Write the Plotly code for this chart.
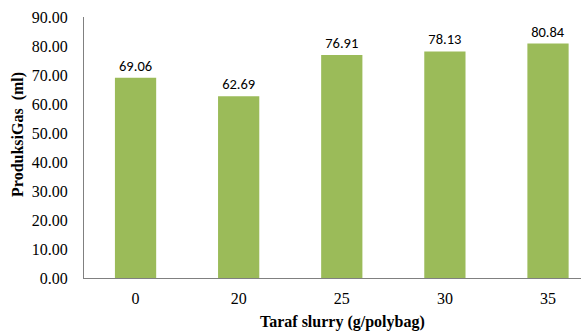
import plotly.graph_objects as go

categories = ["0", "20", "25", "30", "35"]
values = [69.06, 62.69, 76.91, 78.13, 80.84]
value_labels = ["69.06", "62.69", "76.91", "78.13", "80.84"]
y_ticks = [0, 10, 20, 30, 40, 50, 60, 70, 80, 90]
y_tick_labels = ["0.00", "10.00", "20.00", "30.00", "40.00", "50.00", "60.00", "70.00", "80.00", "90.00"]

serif = "Liberation Serif, Times New Roman, serif"
sans = "Calibri, Liberation Sans, Arial, sans-serif"

fig = go.Figure(go.Bar(
    x=list(range(len(categories))),
    y=values,
    text=value_labels,
    textposition="outside",
    textfont=dict(family=sans, size=14.5, color="black"),
    marker=dict(color="#9BBB59", line=dict(width=0)),
    width=0.4,
    cliponaxis=False,
))

fig.update_layout(
    width=581, height=332,
    margin=dict(l=84, r=0, t=17, b=54, autoexpand=False),
    paper_bgcolor="white", plot_bgcolor="white",
    showlegend=False,
    font=dict(family=serif, size=16, color="black"),
    xaxis=dict(
        range=[-0.5, 4.32],
        tickmode="array",
        tickvals=list(range(len(categories))),
        ticktext=categories,
        showgrid=False, zeroline=False,
        showline=True, linecolor="#808080", linewidth=1,
        ticks="", tickfont=dict(family=serif, size=16, color="black"),
        ticklabelstandoff=6,
        automargin=False,
    ),
    yaxis=dict(
        range=[0, 90],
        tickmode="array",
        tickvals=y_ticks,
        ticktext=y_tick_labels,
        showgrid=False, zeroline=False,
        showline=True, linecolor="#808080", linewidth=1,
        ticks="", tickfont=dict(family=serif, size=16, color="black"),
        ticklabelstandoff=12,
        automargin=False,
    ),
    annotations=[
        dict(text="<b>ProduksiGas  (ml)</b>", xref="paper", yref="paper",
             x=-0.1328, y=0.552, textangle=-90, showarrow=False,
             xanchor="center", yanchor="middle",
             font=dict(family=serif, size=16, color="black")),
        dict(text="<b>Taraf slurry (g/polybag)</b>", xref="paper", yref="paper",
             x=0.52, y=-0.1686, showarrow=False,
             xanchor="center", yanchor="middle",
             font=dict(family=serif, size=16, color="black")),
    ],
)

fig.write_html(
    "out.html",
    config={"displayModeBar": False},
    post_script="document.body.style.margin='0';document.body.style.overflow='hidden';",
)
